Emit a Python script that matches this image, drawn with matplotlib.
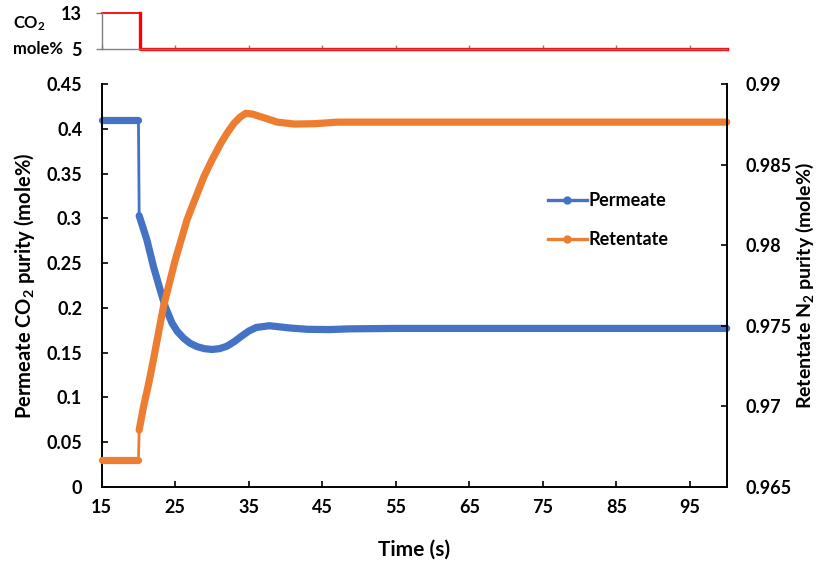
import matplotlib
matplotlib.use("Agg")
import matplotlib.pyplot as plt
from matplotlib.lines import Line2D

plt.rcParams["font.family"] = ["Lato", "DejaVu Sans"]
plt.rcParams["font.weight"] = "bold"
plt.rcParams["mathtext.fontset"] = "custom"
plt.rcParams["mathtext.rm"] = "Lato:bold"
plt.rcParams["mathtext.bf"] = "Lato:bold"
plt.rcParams["mathtext.default"] = "rm"

# Feed CO2 concentration (step change)
feed_time = [15, 20.2, 20.2, 100]
feed_co2 = [13, 13, 5, 5]

# Permeate CO2 purity, before and after the step
perm_time_pre = [15, 20.0]
perm_pre = [0.410, 0.410]
perm_time_post = [20.1, 21.15, 22.05, 22.96, 23.65, 24.56, 25.3, 26.15, 27.0, 27.98,
                  29.0, 30.0, 31.0, 32.0, 33.0, 34.0, 35.0, 36.0, 37.8, 40.7, 43.0, 46.0, 48.6,
                  55, 65, 75, 85, 100]
perm_post = [0.303, 0.276, 0.246, 0.220, 0.2013, 0.183, 0.1735, 0.166, 0.1605, 0.1566,
             0.1543, 0.1535, 0.1543, 0.1570, 0.1620, 0.1682, 0.1740, 0.1780, 0.1800, 0.1774,
             0.1760, 0.1757, 0.1765, 0.177, 0.177, 0.177, 0.177, 0.177]

# Retentate N2 purity, before and after the step
ret_time_pre = [15, 20.0]
ret_pre = [0.96666, 0.96666]
ret_time_post = [20.1, 20.7, 21.4, 22.0, 23.4, 25.0, 26.6, 27.3, 28.9, 30.0, 31.2, 32.1,
                 33.0, 33.8, 34.6, 35.5, 36.6, 38.9, 41.2, 43.9, 47.1, 55, 65, 75, 85, 100]
ret_post = [0.96852, 0.97000, 0.97142, 0.97280, 0.97618, 0.97908, 0.98157, 0.98240, 0.98426,
            0.98530, 0.98633, 0.98700, 0.98758, 0.98795, 0.98820, 0.98815, 0.98799, 0.98765,
            0.98753, 0.98755, 0.98765, 0.98765, 0.98765, 0.98765, 0.98765, 0.98765]

x_ticks = [15, 25, 35, 45, 55, 65, 75, 85, 95]
left_ticks = [0, 0.05, 0.1, 0.15, 0.2, 0.25, 0.3, 0.35, 0.4, 0.45]
right_ticks = [0.965, 0.97, 0.975, 0.98, 0.985, 0.99]

BLUE = "#4472C4"
ORANGE = "#ED7D31"
RED = "#FF0000"
GRAY = "#808080"
FS = 13
FS_TITLE = 14.5

fig = plt.figure(figsize=(8.2, 5.62), dpi=100)
ax = fig.add_axes([0.1240, 0.1340, 0.7622, 0.7160])
ax2 = ax.twinx()
axt = fig.add_axes([0.1240, 0.9123, 0.7622, 0.0641])

# --- main plot ---
ax.set_xlim(15, 100)
ax.set_ylim(0, 0.45)
ax2.set_ylim(0.965, 0.99)
ax.set_xticks(x_ticks)
ax.set_yticks(left_ticks)
ax.set_yticklabels([f"{v:g}" for v in left_ticks])
ax2.set_yticks(right_ticks)
ax2.set_yticklabels([f"{v:g}" for v in right_ticks])

for a in (ax, ax2):
    for s in a.spines.values():
        s.set_linewidth(1.4)
        s.set_color("black")
ax.spines["top"].set_visible(False)
ax.spines["right"].set_visible(False)
ax2.spines["top"].set_visible(False)
ax2.spines["left"].set_visible(False)
ax2.spines["bottom"].set_visible(False)

ax.tick_params(axis="y", direction="in", length=4, width=1.2, pad=14, labelsize=FS)
ax.tick_params(axis="x", direction="in", length=4, width=1.2, pad=9, labelsize=FS)
ax2.tick_params(axis="y", direction="in", length=4, width=1.2, pad=13.5, labelsize=FS)

thick = dict(lw=5.2, solid_capstyle="round", solid_joinstyle="round", clip_on=False)
ax.plot(perm_time_pre, perm_pre, color=BLUE, **thick)
ax.plot([perm_time_pre[-1], perm_time_post[0]], [perm_pre[-1], perm_post[0]], color=BLUE, lw=2.0)
ax.plot(perm_time_post, perm_post, color=BLUE, **thick)

ax2.plot(ret_time_pre, ret_pre, color=ORANGE, **thick)
ax2.plot([ret_time_pre[-1], ret_time_post[0]], [ret_pre[-1], ret_post[0]], color=ORANGE, lw=2.0)
ax2.plot(ret_time_post, ret_post, color=ORANGE, **thick)

ax.set_xlabel("Time (s)", fontsize=15, fontweight="bold", labelpad=17)
ax.set_ylabel(r"Permeate CO$_2$ purity (mole%)", fontsize=FS_TITLE, fontweight="bold", labelpad=7)
ax2.set_ylabel(r"Retentate N$_2$ purity (mole%)", fontsize=14, fontweight="bold", labelpad=2)

handles = [Line2D([], [], color=BLUE, lw=2.4, marker="o", markersize=5),
           Line2D([], [], color=ORANGE, lw=2.4, marker="o", markersize=5)]
fig.legend(handles, ["Permeate", "Retentate"], loc="center left",
           bbox_to_anchor=(0.6683, 0.6085), frameon=False, fontsize=FS,
           handlelength=2.15, handletextpad=0.12, labelspacing=1.2,
           borderpad=0, borderaxespad=0)

# --- feed step panel ---
axt.set_xlim(15, 100)
axt.set_ylim(5, 13)
axt.set_yticks([5, 13])
axt.set_xticks(x_ticks)
axt.set_xticklabels([])
axt.spines["top"].set_visible(False)
axt.spines["right"].set_visible(False)
for s in ("left", "bottom"):
    axt.spines[s].set_color(GRAY)
    axt.spines[s].set_linewidth(1.0)
axt.tick_params(axis="y", direction="out", length=4, width=1, color=GRAY, pad=10.5, labelsize=FS)
axt.tick_params(axis="x", direction="in", length=3, width=1, color=GRAY)
axt.plot(feed_time[:2], feed_co2[:2], color=RED, lw=1.3, clip_on=False)
axt.plot(feed_time[1:], feed_co2[1:], color=RED, lw=2.4, clip_on=False)

fig.text(13 / 820, 1 - 24 / 562, r"CO$_2$", fontsize=12, fontweight="bold", ha="left", va="center")
fig.text(13 / 820, 1 - 49.3 / 562, "mole%", fontsize=12, fontweight="bold", ha="left", va="center")

fig.savefig("out.png", dpi=100)
